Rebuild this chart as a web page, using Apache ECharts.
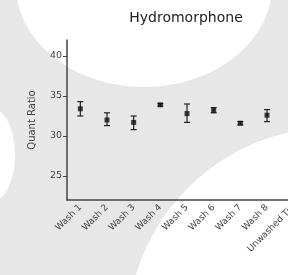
<!DOCTYPE html>
<html>
<head>
<meta charset="utf-8">
<script src="https://cdn.jsdelivr.net/npm/echarts@6/dist/echarts.min.js"></script>
<style>
  html, body { margin: 0; padding: 0; background: #e7e7e7; }
  #main { width: 288px; height: 275px; }
</style>
</head>
<body>
<div id="main"></div>
<script>
// data
var categories = ['Wash 1', 'Wash 2', 'Wash 3', 'Wash 4', 'Wash 5', 'Wash 6', 'Wash 7', 'Wash 8', 'Unwashed Tip'];
var means = [33.4, 32.0, 31.7, 33.9, 32.8, 33.2, 31.6, 32.6, 33.0];
var lower = [32.5, 31.3, 30.8, 33.75, 31.7, 32.9, 31.4, 31.8, 32.5];
var upper = [34.3, 32.9, 32.5, 34.05, 34.0, 33.55, 31.8, 33.3, 33.5];
var yTicks = [25, 30, 35, 40];

var myChart = echarts.init(document.getElementById('main'));

var errData = categories.map(function (c, i) { return [i, lower[i], upper[i]]; });

var option = {
    backgroundColor: '#e7e7e7',
    animation: false,
    // watermark-ish white shapes behind the chart
    graphic: {
        elements: [
            { type: 'ellipse', z: -10, shape: { cx: 144, cy: -15, rx: 128, ry: 102 }, style: { fill: '#ffffff' } },
            { type: 'circle', z: -10, shape: { cx: 335, cy: 335, r: 208 }, style: { fill: '#ffffff' } },
            { type: 'ellipse', z: -10, shape: { cx: -10, cy: 155, rx: 25, ry: 48 }, style: { fill: '#ffffff' } }
        ]
    },
    title: {
        text: 'Hydromorphone',
        left: 181,
        top: 6,
        textAlign: 'center',
        textStyle: { fontFamily: 'DejaVu Sans', fontSize: 14, fontWeight: 'normal', color: '#222' }
    },
    grid: { left: 67, top: 40, right: -19, bottom: 75, outerBoundsMode: 'none' },
    xAxis: {
        type: 'category',
        data: categories,
        axisLine: { lineStyle: { color: '#444', width: 1.5 } },
        axisTick: { alignWithLabel: true, length: 4, lineStyle: { color: '#444' } },
        axisLabel: { rotate: 45, fontSize: 9, margin: 6, color: '#444', fontFamily: 'DejaVu Sans' }
    },
    yAxis: {
        type: 'value',
        min: 22,
        max: 42,
        name: 'Quant Ratio',
        nameLocation: 'middle',
        nameGap: 30,
        nameTextStyle: { fontSize: 10, color: '#444', fontFamily: 'DejaVu Sans' },
        splitLine: { show: false },
        axisLine: { show: true, lineStyle: { color: '#444', width: 1.5 } },
        axisTick: { show: true, length: 4, customValues: yTicks, lineStyle: { color: '#444' } },
        axisLabel: { customValues: yTicks, fontSize: 9.5, margin: 5, color: '#444', fontFamily: 'DejaVu Sans' }
    },
    series: [
        {
            type: 'custom',
            data: errData,
            z: 3,
            renderItem: function (params, api) {
                var x = api.value(0);
                var lo = api.coord([x, api.value(1)]);
                var hi = api.coord([x, api.value(2)]);
                var w = 3;
                var st = { stroke: '#222', lineWidth: 1.2 };
                return {
                    type: 'group',
                    children: [
                        { type: 'line', shape: { x1: lo[0], y1: lo[1], x2: hi[0], y2: hi[1] }, style: st },
                        { type: 'line', shape: { x1: hi[0] - w, y1: hi[1], x2: hi[0] + w, y2: hi[1] }, style: st },
                        { type: 'line', shape: { x1: lo[0] - w, y1: lo[1], x2: lo[0] + w, y2: lo[1] }, style: st }
                    ]
                };
            }
        },
        {
            type: 'scatter',
            data: means,
            symbol: 'rect',
            symbolSize: 5,
            z: 4,
            itemStyle: { color: '#111' }
        }
    ]
};

myChart.setOption(option);
</script>
</body>
</html>
